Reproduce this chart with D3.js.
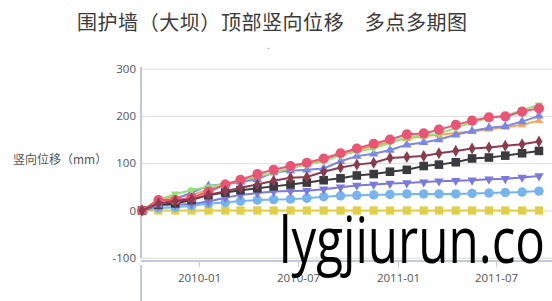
<!DOCTYPE html>
<html>
<head>
<meta charset="utf-8">
<style>
body { margin: 0; background: #fff; }
svg { display: block; }
.tick-label { font: 11.5px "Open Sans", sans-serif; fill: #555; }
.grid line { stroke: #dcdcdc; stroke-width: 1; }
</style>
</head>
<body>
<svg width="552" height="301"></svg>
<script src="https://d3js.org/d3.v7.min.js"></script>
<script>
// monthly survey dates
var dates = ["2009-09-18","2009-10-18","2009-11-18","2009-12-18","2010-01-18","2010-02-18","2010-03-18",
  "2010-04-18","2010-05-18","2010-06-18","2010-07-18","2010-08-18","2010-09-18","2010-10-18","2010-11-18",
  "2010-12-18","2011-01-18","2011-02-18","2011-03-18","2011-04-18","2011-05-18","2011-06-18","2011-07-18",
  "2011-08-18","2011-09-18"];

var yellowSq   = [0,0,0,0,0,0,0,0,0,0,0,0,0,0,0,0,0,0,0,0,0,0,0,0,0];
var lightBlue  = [0,5,7,10,15,17,20,22,23,24,26,29,31,32,33,34,35,35,35,35,36,37,38,39,41];
var purpleDown = [0,10,12,14,19,27,33,37,40,41,42,45,49,53,55,57,58,60,62,63,64,66,67,70,73];
var darkSq     = [0,12,15,22,33,38,43,47,51,55,59,64,68,74,77,82,86,94,97,102,110,112,116,121,126];
var orange     = [0,24,28,33,44,54,62,70,79,89,98,107,119,128,137,145,152,157,160,164,167,172,176,181,190];
var blueUp     = [0,12,24,38,52,56,60,66,81,84,86,89,104,115,120,128,139,144,150,160,168,175,178,188,200];
var green      = [0,22,35,43,50,56,63,72,80,90,97,104,117,125,131,143,155,159,162,175,186,196,200,212,223];
var pink       = [0,22,22,27,40,55,65,77,86,94,101,110,121,131,141,150,161,163,171,181,190,197,199,209,216];
var maroon     = [0,15,20,24,33,41,48,55,63,69,71,82,91,97,101,111,113,115,121,126,131,133,137,140,146];

var yTicks = [-100, 0, 100, 200, 300];
var xTicks = ["2010-01-01","2010-07-01","2011-01-01","2011-07-01"];

var title = "围护墙（大坝）顶部竖向位移　多点多期图";
var yTitle = "竖向位移（mm）";
var watermark = "lygjiurun.co";

var series = [
  {v: yellowSq,   color: "#e2cf48", sym: "square",  size: 68},
  {v: lightBlue,  color: "#75b4ee", sym: "circle",  size: 70},
  {v: purpleDown, color: "#7b79de", sym: "down",    size: 38},
  {v: darkSq,     color: "#3b3b3f", sym: "square",  size: 74},
  {v: orange,     color: "#f6a559", sym: "up",      size: 30},
  {v: blueUp,     color: "#7a87e8", sym: "up",      size: 38},
  {v: green,      color: "#94e07a", sym: "down",    size: 30},
  {v: pink,       color: "#ec5374", sym: "circle",  size: 80},
  {v: maroon,     color: "#8a3b4e", sym: "diamond", size: 42}
];

var svg = d3.select("svg");
var parse = d3.utcParse("%Y-%m-%d");

var x = d3.scaleUtc()
    .domain([parse("2009-09-16"), parse("2011-10-12")])
    .range([141, 552]);
var y = d3.scaleLinear()
    .domain([-100, 300])
    .range([257.8, 68.6]);

// title
svg.append("text")
    .attr("x", 77).attr("y", 30)
    .attr("textLength", 390)
    .style("font", "20px 'Noto Sans CJK SC'")
    .style("fill", "#3a3a3a")
    .text(title);
svg.append("text")
    .attr("x", 267).attr("y", 49)
    .style("font", "9px 'Noto Sans'")
    .style("fill", "#666")
    .text(".");

// y title
svg.append("text")
    .attr("x", 13).attr("y", 164)
    .style("font", "12px 'Noto Sans CJK SC'")
    .style("fill", "#555")
    .text(yTitle);

// grid
var grid = svg.append("g").attr("class", "grid");
grid.selectAll("line").data(yTicks).enter().append("line")
    .attr("x1", 141).attr("x2", 552)
    .attr("y1", function(d) { return y(d) + 0.5; })
    .attr("y2", function(d) { return y(d) + 0.5; });

svg.selectAll(".ylab").data(yTicks).enter().append("text")
    .attr("class", "tick-label")
    .attr("x", 136)
    .attr("y", function(d) { return y(d); })
    .attr("dy", "0.35em")
    .attr("text-anchor", "end")
    .text(function(d) { return d; });

// y axis line (broken below x axis like the original)
svg.append("line").attr("x1", 141).attr("x2", 141).attr("y1", 67).attr("y2", 258)
    .style("stroke", "#c3cad6").style("stroke-width", 2);
svg.append("line").attr("x1", 141).attr("x2", 141).attr("y1", 265).attr("y2", 301)
    .style("stroke", "#c3cad6").style("stroke-width", 2);

// x axis
var xAxisY = 261;
svg.append("line").attr("x1", 141).attr("x2", 552).attr("y1", xAxisY).attr("y2", xAxisY)
    .style("stroke", "#c3cad6").style("stroke-width", 2);
var fmt = d3.utcFormat("%Y-%m");
var xt = svg.selectAll(".xt").data(xTicks.map(parse)).enter().append("g")
    .attr("transform", function(d) { return "translate(" + Math.round(x(d)) + ".5,0)"; });
xt.append("line").attr("y1", xAxisY + 1).attr("y2", xAxisY + 6).style("stroke", "#ccc");
xt.append("text")
    .attr("class", "tick-label")
    .attr("y", 282)
    .attr("text-anchor", "middle")
    .text(fmt);

// series
var pts = dates.map(parse);
var line = d3.line()
    .x(function(d, i) { return x(pts[i]); })
    .y(function(d) { return y(d); });

function symPath(s) {
  var t = s.sym == "circle" ? d3.symbolCircle :
          s.sym == "square" ? d3.symbolSquare :
          s.sym == "diamond" ? d3.symbolDiamond : d3.symbolTriangle;
  return d3.symbol().type(t).size(s.size)();
}

series.forEach(function(s) {
  var g = svg.append("g");
  g.append("path")
      .attr("d", line(s.v))
      .style("fill", "none")
      .style("stroke", s.color)
      .style("stroke-width", 2);
  var p = symPath(s);
  g.selectAll("path.m").data(s.v).enter().append("path")
      .attr("class", "m")
      .attr("d", p)
      .attr("transform", function(d, i) {
        return "translate(" + x(pts[i]) + "," + y(d) + ")" + (s.sym == "down" ? " rotate(180)" : "");
      })
      .style("fill", s.color);
});

// watermark
svg.append("text")
    .attr("x", 279).attr("y", 263)
    .attr("textLength", 266)
    .attr("lengthAdjust", "spacingAndGlyphs")
    .style("font", "64px 'Open Sans'")
    .style("fill", "#000")
    .text(watermark);
</script>
</body>
</html>
